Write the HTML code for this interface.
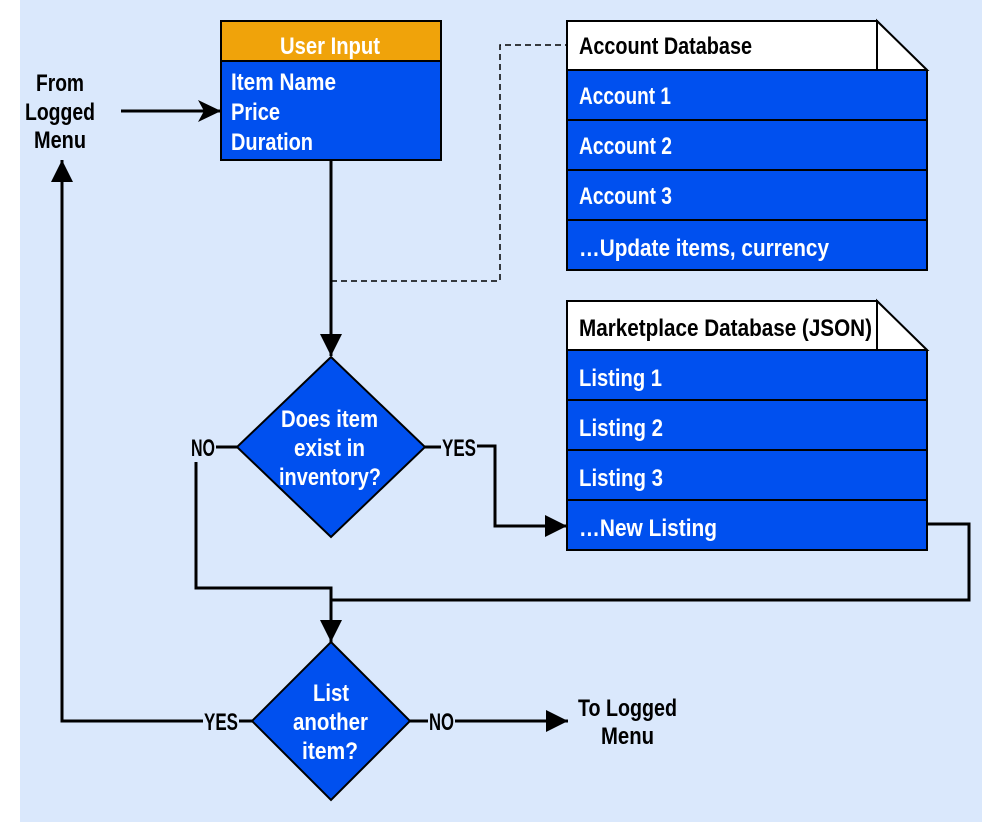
<!DOCTYPE html>
<html><head><meta charset="utf-8"><style>
html,body{margin:0;padding:0;background:#fff;}
svg{display:block;}
text{font-family:"Liberation Sans",sans-serif;font-weight:bold;font-size:24px;}
.w{fill:#fff;}
.k{fill:#000;}
</style></head><body>
<svg width="988" height="822" viewBox="0 0 988 822" xmlns="http://www.w3.org/2000/svg">
<defs>
<marker id="ab" markerWidth="24" markerHeight="24" refX="23" refY="12" orient="auto" markerUnits="userSpaceOnUse">
<path d="M0,1 L23,12 L0,23 L6,12 Z" fill="#000"/>
</marker>
<marker id="at" markerWidth="24" markerHeight="24" refX="22" refY="12" orient="auto" markerUnits="userSpaceOnUse">
<path d="M0,1 L22,12 L0,23 Z" fill="#000"/>
</marker>
</defs>
<rect x="20" y="0" width="962" height="822" fill="#dae8fc"/>

<text x="36" y="91" class="k" textLength="48" lengthAdjust="spacingAndGlyphs">From</text>
<text x="25" y="120" class="k" textLength="70" lengthAdjust="spacingAndGlyphs">Logged</text>
<text x="34" y="148" class="k" textLength="52" lengthAdjust="spacingAndGlyphs">Menu</text>
<line x1="121" y1="111" x2="221" y2="111" stroke="#000" stroke-width="3" marker-end="url(#ab)"/>

<rect x="221" y="21" width="220" height="139" fill="#0050ef" stroke="#000" stroke-width="2"/>
<rect x="221" y="21" width="220" height="40" fill="#f0a30a" stroke="#000" stroke-width="2"/>
<text x="280" y="54" class="w" textLength="100" lengthAdjust="spacingAndGlyphs">User Input</text>
<text x="231" y="90" class="w" textLength="105" lengthAdjust="spacingAndGlyphs">Item Name</text>
<text x="231" y="120" class="w" textLength="49" lengthAdjust="spacingAndGlyphs">Price</text>
<text x="231" y="150" class="w" textLength="82" lengthAdjust="spacingAndGlyphs">Duration</text>

<path d="M331,281 L500,281 L500,45 L567,45" fill="none" stroke="#000" stroke-width="1.5" stroke-dasharray="6,4"/>
<line x1="331" y1="160" x2="331" y2="356" stroke="#000" stroke-width="3" marker-end="url(#at)"/>

<path d="M567,21 L877,21 L927,70 L927,270 L567,270 Z" fill="#0050ef" stroke="#000" stroke-width="2"/>
<path d="M567,21 L877,21 L877,70 L567,70 Z" fill="#fff" stroke="#000" stroke-width="2"/>
<path d="M877,21 L927,70 L877,70 Z" fill="#fff" stroke="#000" stroke-width="2"/>
<line x1="567" y1="70" x2="927" y2="70" stroke="#000" stroke-width="2"/>
<line x1="567" y1="120" x2="927" y2="120" stroke="#000" stroke-width="2"/>
<line x1="567" y1="170" x2="927" y2="170" stroke="#000" stroke-width="2"/>
<line x1="567" y1="220" x2="927" y2="220" stroke="#000" stroke-width="2"/>
<text x="579" y="54" class="k" textLength="173" lengthAdjust="spacingAndGlyphs">Account Database</text>
<text x="579" y="104" class="w" textLength="92" lengthAdjust="spacingAndGlyphs">Account 1</text>
<text x="579" y="154" class="w" textLength="93" lengthAdjust="spacingAndGlyphs">Account 2</text>
<text x="579" y="204" class="w" textLength="93" lengthAdjust="spacingAndGlyphs">Account 3</text>
<text x="579" y="256" class="w" textLength="250" lengthAdjust="spacingAndGlyphs">…Update items, currency</text>

<path d="M567,301 L877,301 L927,350 L927,550 L567,550 Z" fill="#0050ef" stroke="#000" stroke-width="2"/>
<path d="M567,301 L877,301 L877,350 L567,350 Z" fill="#fff" stroke="#000" stroke-width="2"/>
<path d="M877,301 L927,350 L877,350 Z" fill="#fff" stroke="#000" stroke-width="2"/>
<line x1="567" y1="350" x2="927" y2="350" stroke="#000" stroke-width="2"/>
<line x1="567" y1="400" x2="927" y2="400" stroke="#000" stroke-width="2"/>
<line x1="567" y1="450" x2="927" y2="450" stroke="#000" stroke-width="2"/>
<line x1="567" y1="500" x2="927" y2="500" stroke="#000" stroke-width="2"/>
<text x="579" y="336" class="k" textLength="293" lengthAdjust="spacingAndGlyphs">Marketplace Database (JSON)</text>
<text x="579" y="386" class="w" textLength="83" lengthAdjust="spacingAndGlyphs">Listing 1</text>
<text x="579" y="436" class="w" textLength="84" lengthAdjust="spacingAndGlyphs">Listing 2</text>
<text x="579" y="486" class="w" textLength="84" lengthAdjust="spacingAndGlyphs">Listing 3</text>
<text x="579" y="536" class="w" textLength="138" lengthAdjust="spacingAndGlyphs">…New Listing</text>

<path d="M331,357 L425,447 L331,537 L237,447 Z" fill="#0050ef" stroke="#000" stroke-width="2"/>
<text x="281" y="427" class="w" textLength="97" lengthAdjust="spacingAndGlyphs">Does item</text>
<text x="294" y="456" class="w" textLength="71" lengthAdjust="spacingAndGlyphs">exist in</text>
<text x="279" y="485" class="w" textLength="102" lengthAdjust="spacingAndGlyphs">inventory?</text>
<line x1="237" y1="447" x2="216" y2="447" stroke="#000" stroke-width="3"/>
<text x="191" y="456" class="k" textLength="24" lengthAdjust="spacingAndGlyphs">NO</text>
<line x1="425" y1="447" x2="441" y2="447" stroke="#000" stroke-width="3"/>
<text x="442" y="456" class="k" textLength="34" lengthAdjust="spacingAndGlyphs">YES</text>
<path d="M477,446 L495,446 L495,526 L567,526" fill="none" stroke="#000" stroke-width="3" marker-end="url(#at)"/>
<path d="M196,462 L196,588 L331,588 L331,642" fill="none" stroke="#000" stroke-width="3" marker-end="url(#at)"/>
<path d="M927,524 L969,524 L969,600 L331,600" fill="none" stroke="#000" stroke-width="3"/>

<path d="M331,642 L410,721 L331,800 L252,721 Z" fill="#0050ef" stroke="#000" stroke-width="2"/>
<text x="313" y="701" class="w" textLength="36" lengthAdjust="spacingAndGlyphs">List</text>
<text x="293" y="730" class="w" textLength="75" lengthAdjust="spacingAndGlyphs">another</text>
<text x="302" y="759" class="w" textLength="56" lengthAdjust="spacingAndGlyphs">item?</text>
<line x1="252" y1="721" x2="239" y2="721" stroke="#000" stroke-width="3"/>
<text x="204" y="730" class="k" textLength="34" lengthAdjust="spacingAndGlyphs">YES</text>
<path d="M203,721 L62,721 L62,160" fill="none" stroke="#000" stroke-width="3" marker-end="url(#at)"/>
<line x1="410" y1="721" x2="428" y2="721" stroke="#000" stroke-width="3"/>
<text x="429" y="730" class="k" textLength="25" lengthAdjust="spacingAndGlyphs">NO</text>
<line x1="455" y1="721" x2="568" y2="721" stroke="#000" stroke-width="3" marker-end="url(#at)"/>
<text x="578" y="716" class="k" textLength="99" lengthAdjust="spacingAndGlyphs">To Logged</text>
<text x="601" y="744" class="k" textLength="53" lengthAdjust="spacingAndGlyphs">Menu</text>
</svg>
</body></html>
